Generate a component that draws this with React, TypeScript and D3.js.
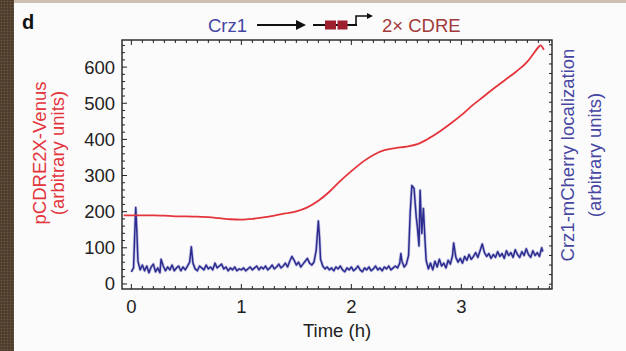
import React from 'react'
import { scaleLinear, line, curveMonotoneX, curveLinear, range } from 'd3'

// pCDRE2X-Venus reporter (left axis)
const venusTimes = [-0.07, 0, 0.1, 0.2, 0.3, 0.4, 0.5, 0.6, 0.7, 0.8, 0.9, 1.0, 1.1, 1.2, 1.3, 1.4, 1.5, 1.6, 1.7, 1.8, 1.9, 2.0, 2.1, 2.2, 2.3, 2.4, 2.5, 2.6, 2.7, 2.8, 2.9, 3.0, 3.1, 3.2, 3.3, 3.4, 3.5, 3.6, 3.65, 3.7, 3.72, 3.75]
const venusValues = [190, 190, 190, 190, 189, 187, 187, 186, 185, 182, 179, 178, 180, 184, 189, 195, 201, 212, 230, 255, 285, 312, 337, 357, 370, 376, 380, 387, 402, 421, 443, 467, 494, 518, 542, 565, 588, 615, 635, 655, 660, 648]

// Crz1-mCherry localization (right axis), [time h, value]
const crz1Points: [number, number][] = [
  [0.00, 1.3], [0.02, 1.7], [0.03, 5.0], [0.04, 8.0], [0.05, 5.5], [0.06, 2.4], [0.08, 1.5], [0.10, 2.0],
  [0.12, 1.4], [0.14, 1.9], [0.16, 1.2], [0.18, 1.8], [0.20, 2.1], [0.22, 1.3], [0.24, 1.7], [0.26, 1.2],
  [0.27, 2.6], [0.29, 1.9], [0.31, 1.4], [0.33, 1.8], [0.35, 1.5], [0.37, 2.0], [0.39, 1.4], [0.41, 1.7],
  [0.43, 1.9], [0.45, 1.4], [0.47, 1.8], [0.49, 1.5], [0.51, 1.9], [0.53, 2.3], [0.545, 3.9], [0.56, 2.2],
  [0.58, 1.6], [0.60, 1.4], [0.62, 1.9], [0.64, 1.7], [0.66, 1.5], [0.68, 2.0], [0.70, 1.6], [0.72, 1.8],
  [0.74, 1.5], [0.76, 2.2], [0.78, 1.7], [0.80, 1.9], [0.82, 2.1], [0.84, 1.6], [0.86, 1.8], [0.88, 1.4],
  [0.90, 1.7], [0.92, 1.5], [0.94, 1.8], [0.96, 1.4], [0.98, 1.6], [1.00, 1.5], [1.02, 1.7], [1.04, 1.4],
  [1.06, 1.6], [1.08, 1.8], [1.10, 1.5], [1.12, 1.7], [1.14, 1.9], [1.16, 1.5], [1.18, 1.8], [1.20, 1.6],
  [1.22, 1.9], [1.24, 1.5], [1.26, 1.7], [1.28, 2.0], [1.30, 1.6], [1.32, 1.8], [1.34, 2.1], [1.36, 1.7],
  [1.38, 1.9], [1.40, 2.2], [1.42, 1.8], [1.44, 2.4], [1.46, 2.9], [1.48, 2.5], [1.50, 2.0], [1.52, 2.3],
  [1.54, 1.8], [1.56, 2.1], [1.58, 2.4], [1.60, 2.7], [1.62, 2.2], [1.64, 2.0], [1.66, 2.3], [1.68, 3.5],
  [1.70, 6.6], [1.71, 5.0], [1.72, 2.6], [1.74, 1.9], [1.76, 1.6], [1.78, 1.8], [1.80, 1.5], [1.82, 1.7],
  [1.84, 1.4], [1.86, 1.8], [1.88, 1.6], [1.90, 1.9], [1.92, 1.5], [1.94, 1.3], [1.96, 1.7], [1.98, 1.5],
  [2.00, 1.8], [2.02, 1.4], [2.04, 1.6], [2.06, 1.9], [2.08, 1.5], [2.10, 1.3], [2.12, 1.7], [2.14, 1.5],
  [2.16, 1.8], [2.18, 1.4], [2.20, 1.6], [2.22, 1.9], [2.24, 1.5], [2.26, 1.7], [2.28, 1.4], [2.30, 1.8],
  [2.32, 1.6], [2.34, 1.9], [2.36, 1.5], [2.38, 1.7], [2.40, 1.9], [2.42, 1.7], [2.44, 2.2], [2.45, 3.2],
  [2.46, 2.4], [2.48, 1.8], [2.50, 2.1], [2.52, 3.0], [2.535, 7.5], [2.55, 10.3], [2.57, 10.0], [2.59, 7.0],
  [2.60, 6.0], [2.615, 4.0], [2.625, 9.8], [2.64, 5.3], [2.655, 7.9], [2.67, 4.5], [2.68, 2.5], [2.70, 1.6],
  [2.72, 2.2], [2.74, 1.5], [2.76, 2.4], [2.78, 1.8], [2.80, 2.6], [2.82, 1.9], [2.84, 2.2], [2.86, 1.7],
  [2.88, 2.5], [2.90, 2.1], [2.92, 3.0], [2.93, 4.3], [2.95, 2.8], [2.97, 2.3], [2.99, 2.7], [3.01, 2.2],
  [3.03, 2.9], [3.05, 2.5], [3.07, 3.1], [3.09, 2.6], [3.11, 2.9], [3.13, 3.3], [3.15, 2.8], [3.17, 3.5],
  [3.19, 4.2], [3.21, 3.3], [3.23, 2.9], [3.25, 3.2], [3.27, 2.7], [3.29, 3.1], [3.31, 2.8], [3.33, 3.4],
  [3.35, 2.9], [3.37, 3.2], [3.39, 2.7], [3.41, 3.5], [3.43, 3.0], [3.45, 3.3], [3.47, 2.8], [3.49, 3.6],
  [3.51, 3.1], [3.53, 2.8], [3.55, 3.4], [3.57, 3.0], [3.59, 3.7], [3.61, 3.1], [3.63, 2.8], [3.65, 3.5],
  [3.67, 3.0], [3.69, 3.3], [3.71, 2.9], [3.73, 3.8], [3.74, 3.4],
]

const timeTicks = [0, 1, 2, 3]
const venusTicks = [0, 100, 200, 300, 400, 500, 600]

const W = 626
const H = 351
const frame = { left: 122, right: 552, top: 40, bottom: 289 }
const font = '"Liberation Sans", Arial, Helvetica, sans-serif'
const red = '#e4343c'
const blue = '#2c2c8e'

const App = () => {
  const x = scaleLinear().domain([-0.085, 3.824]).range([frame.left, frame.right])
  const yLeft = scaleLinear().domain([-14, 675]).range([frame.bottom, frame.top])
  const yRight = scaleLinear().domain([-0.5, 25.5]).range([frame.bottom, frame.top])

  const venusLine = line<number>()
    .x((d, i) => x(venusTimes[i]))
    .y(d => yLeft(d))
    .curve(curveMonotoneX)
  const crzLine = line<[number, number]>()
    .x(d => x(d[0]))
    .y(d => yRight(d[1]))
    .curve(curveLinear)

  // minor ticks every 0.1 h, every 20 units, every 1 right unit
  const xMinor = range(0, 3.81, 0.1)
  const yMinor = range(0, 661, 20)
  const rMinor = range(0, 25.1, 1)

  return (
    <svg width={W} height={H} style={{ position: 'absolute', left: 0, top: 0 }} fontFamily={font}>
      <defs>
        <pattern id="grain" width={3} height={3} patternUnits="userSpaceOnUse">
          <rect width={3} height={3} fill="#4e3d2c" />
          <circle cx={1.5} cy={1.5} r={0.8} fill="#6e5a45" />
        </pattern>
      </defs>
      <rect width={W} height={H} fill="#fbfbfb" />
      <rect x={0} y={0} width={W} height={3} fill="#cdbfb1" />
      <rect x={0} y={0} width={14} height={H} fill="url(#grain)" />

      <text x={22} y={29} fontSize={20} fontWeight="bold" fill="#111">d</text>

      {/* schematic title */}
      <text x={208} y={32} fontSize={18.5} fill="#4646a2">Crz1</text>
      <line x1={257} y1={25} x2={297} y2={25} stroke="#111" strokeWidth={2} />
      <path d="M296,20 L306,25 L296,30 Z" fill="#111" />
      <line x1={313} y1={25} x2={357} y2={25} stroke="#111" strokeWidth={2} />
      <rect x={325} y={20.5} width={11} height={9} fill="#9e1f2e" />
      <rect x={337.5} y={20.5} width={10} height={9} fill="#9e1f2e" />
      <path d="M356,25 L356,16 L368,16" fill="none" stroke="#111" strokeWidth={1.6} />
      <path d="M367,13 L373,16 L367,19 Z" fill="#111" />
      <text x={382} y={32} fontSize={18.5} fill="#a23a3a">2× CDRE</text>

      {/* series */}
      <path d={crzLine(crz1Points) ?? ''} fill="none" stroke="#8a8ad0" strokeOpacity={0.5} strokeWidth={3} strokeLinejoin="round" />
      <path d={crzLine(crz1Points) ?? ''} fill="none" stroke={blue} strokeWidth={1.5} strokeLinejoin="round" />
      <path d={venusLine(venusValues) ?? ''} fill="none" stroke={red} strokeWidth={1.8} />

      {/* frame and ticks */}
      <rect x={frame.left} y={frame.top} width={frame.right - frame.left} height={frame.bottom - frame.top}
        fill="none" stroke="#222" strokeWidth={1.4} />
      {xMinor.map(t => {
        const len = Math.abs(t - Math.round(t)) < 1e-6 ? 5 : 3
        return (
          <g key={'x' + t} stroke="#222" strokeWidth={1}>
            <line x1={x(t)} x2={x(t)} y1={frame.bottom} y2={frame.bottom - len} />
            <line x1={x(t)} x2={x(t)} y1={frame.top} y2={frame.top + len} />
          </g>
        )
      })}
      {yMinor.map(v => (
        <line key={'y' + v} x1={frame.left} x2={frame.left + (v % 100 === 0 ? 5 : 3)} y1={yLeft(v)} y2={yLeft(v)}
          stroke="#222" strokeWidth={1} />
      ))}
      {rMinor.map(v => (
        <line key={'r' + v} x1={frame.right} x2={frame.right - 3} y1={yRight(v)} y2={yRight(v)}
          stroke="#222" strokeWidth={1} />
      ))}

      {/* tick labels */}
      {timeTicks.map(t => (
        <text key={'xl' + t} x={x(t)} y={313} fontSize={18.5} textAnchor="middle" fill="#222">{t}</text>
      ))}
      {venusTicks.map(v => (
        <text key={'yl' + v} x={115} y={yLeft(v)} dy="0.35em" fontSize={18.5} textAnchor="end" fill="#222">{v}</text>
      ))}

      {/* axis titles */}
      <text x={(frame.left + frame.right) / 2} y={337} fontSize={18.5} textAnchor="middle" fill="#222">Time (h)</text>
      <g transform="translate(46,153) rotate(-90)">
        <text x={0} y={0} fontSize={18.5} textAnchor="middle" fill={red}>pCDRE2X-Venus</text>
      </g>
      <g transform="translate(64,153) rotate(-90)">
        <text x={0} y={0} fontSize={18.5} textAnchor="middle" fill={red}>(arbitrary units)</text>
      </g>
      <g transform="translate(574,155) rotate(-90)">
        <text x={0} y={0} fontSize={18.5} textAnchor="middle" fill="#4646a2">Crz1-mCherry localization</text>
      </g>
      <g transform="translate(601,155) rotate(-90)">
        <text x={0} y={0} fontSize={18.5} textAnchor="middle" fill="#4646a2">(arbitrary units)</text>
      </g>
    </svg>
  )
}

export default App
